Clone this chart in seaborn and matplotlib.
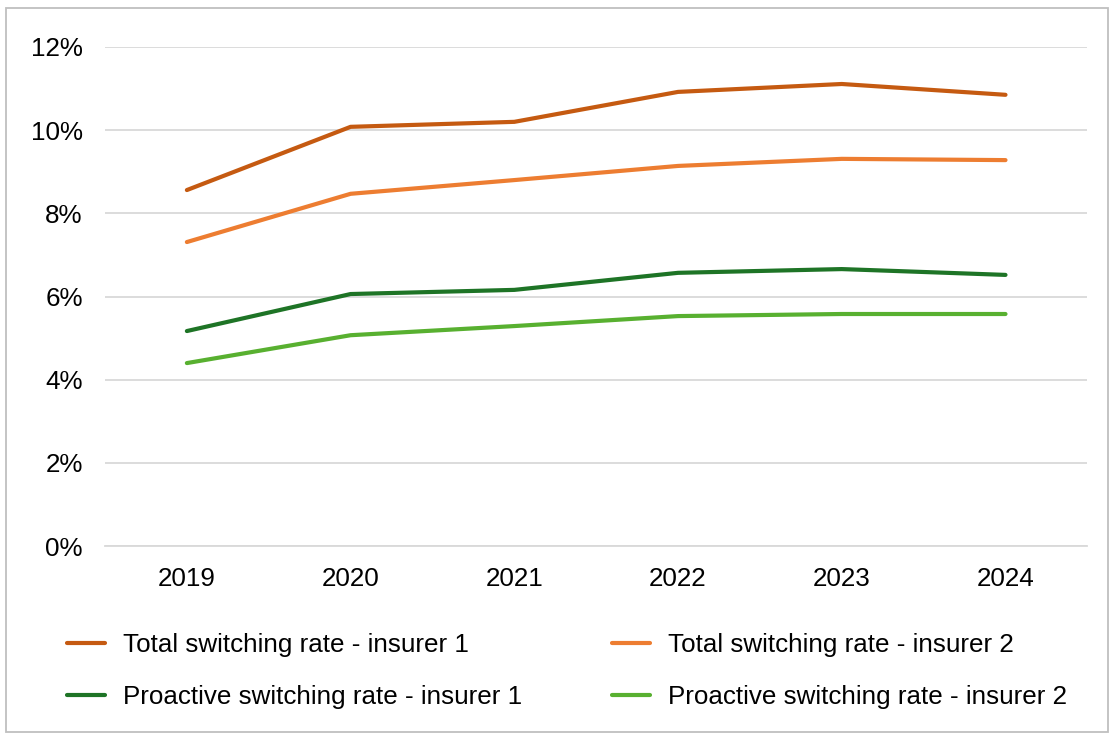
import pandas as pd
import matplotlib.pyplot as plt
import seaborn as sns
from matplotlib.patches import Rectangle
from matplotlib.ticker import FuncFormatter

# --- Data (percent) ---
years = ["2019", "2020", "2021", "2022", "2023", "2024"]
total_1 = [8.56, 10.08, 10.2, 10.92, 11.11, 10.85]
total_2 = [7.31, 8.47, 8.8, 9.14, 9.31, 9.28]
proactive_1 = [5.17, 6.06, 6.16, 6.57, 6.66, 6.52]
proactive_2 = [4.40, 5.07, 5.29, 5.53, 5.58, 5.58]

series = {
    "Total switching rate - insurer 1": total_1,
    "Total switching rate - insurer 2": total_2,
    "Proactive switching rate - insurer 1": proactive_1,
    "Proactive switching rate - insurer 2": proactive_2,
}
colors = ["#C55A11", "#ED7D31", "#1E7426", "#58B030"]

df = pd.DataFrame([
    {"Year": i, "Series": name, "Rate": v}
    for name, vals in series.items()
    for i, v in enumerate(vals)
])

sns.set_style("white")
plt.rcParams["font.family"] = ["Liberation Sans", "DejaVu Sans"]
fs = 18.7

fig = plt.figure(figsize=(11.1, 7.34), dpi=100)
ax = fig.add_axes([0.0946, 0.256, 0.885, 0.680])

sns.lineplot(data=df, x="Year", y="Rate", hue="Series", palette=colors,
             linewidth=3.0, ax=ax, zorder=3)

ax.set_xlim(-0.5, 5.5)
ax.set_ylim(0, 12)
ax.set_yticks(range(0, 13, 2))
ax.yaxis.set_major_formatter(FuncFormatter(lambda v, p: f"{v:.0f}%"))
ax.set_xticks(range(len(years)))
ax.set_xticklabels(years)
ax.grid(axis="y", color="#D9D9D9", linewidth=1.3)
ax.tick_params(axis="both", length=0, labelsize=fs, colors="black")
ax.tick_params(axis="x", pad=15)
ax.tick_params(axis="y", pad=16)
for s in ["top", "right", "left"]:
    ax.spines[s].set_visible(False)
ax.spines["bottom"].set_color("#D9D9D9")
ax.spines["bottom"].set_linewidth(1.3)
ax.set_xlabel("")
ax.set_ylabel("")

# legend filled row by row: T1, T2 / P1, P2
handles, labels = ax.get_legend_handles_labels()
order = [0, 2, 1, 3]
ax.legend([handles[i] for i in order], [labels[i] for i in order],
          loc="upper left", bbox_to_anchor=(-0.0387, -0.175),
          ncol=2, frameon=False, fontsize=fs, labelcolor="black",
          handlelength=1.46, handletextpad=0.7, columnspacing=3.45,
          labelspacing=1.06, borderpad=0, borderaxespad=0)

# outer chart border
fig.patches.append(Rectangle((0.005, 0.003), 0.993, 0.986, transform=fig.transFigure,
                             fill=False, edgecolor="#BFBFBF", linewidth=1.3))

plt.savefig("out.png", dpi=100)
